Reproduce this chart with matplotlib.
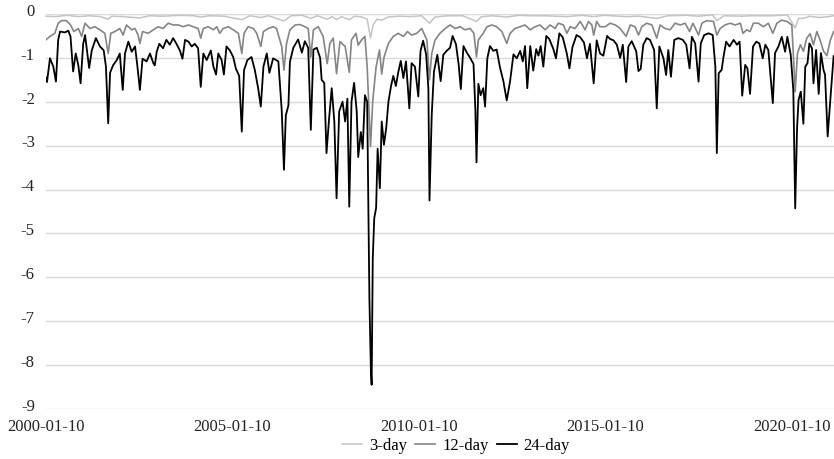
import matplotlib
matplotlib.use("Agg")
import matplotlib.pyplot as plt
import matplotlib.transforms as mtransforms

plt.rcParams["font.family"] = ["Liberation Serif", "DejaVu Serif"]

# dates as decimal years
t24 = [2000.03, 2000.06, 2000.14, 2000.23, 2000.30, 2000.36, 2000.41, 2000.54, 2000.63, 2000.69,
       2000.76, 2000.83, 2000.90, 2000.96, 2001.03, 2001.08, 2001.14, 2001.19, 2001.26, 2001.37,
       2001.48, 2001.58, 2001.64, 2001.70, 2001.75, 2001.83, 2001.93, 2002.01, 2002.09, 2002.15,
       2002.24, 2002.33, 2002.42, 2002.48, 2002.55, 2002.62, 2002.73, 2002.82, 2002.91, 2002.95,
       2003.00, 2003.07, 2003.17, 2003.26, 2003.35, 2003.44, 2003.53, 2003.62, 2003.69, 2003.76,
       2003.85, 2003.94, 2004.02, 2004.11, 2004.18, 2004.25, 2004.34, 2004.45, 2004.52, 2004.59,
       2004.65, 2004.74, 2004.80, 2004.87, 2004.96, 2005.05, 2005.12, 2005.21, 2005.28, 2005.34,
       2005.43, 2005.54, 2005.63, 2005.72, 2005.79, 2005.86, 2005.95, 2006.02, 2006.12, 2006.26,
       2006.35, 2006.41, 2006.46, 2006.53, 2006.57, 2006.66, 2006.79, 2006.89, 2006.97, 2007.06,
       2007.13, 2007.20, 2007.29, 2007.38, 2007.42, 2007.49, 2007.55, 2007.62, 2007.69, 2007.76,
       2007.82, 2007.89, 2007.98, 2008.05, 2008.11, 2008.16, 2008.22, 2008.29, 2008.36, 2008.40,
       2008.47, 2008.52, 2008.58, 2008.64, 2008.70, 2008.74, 2008.76, 2008.79, 2008.83, 2008.88,
       2008.92, 2008.98, 2009.03, 2009.09, 2009.15, 2009.21, 2009.28, 2009.34, 2009.41, 2009.47,
       2009.54, 2009.61, 2009.68, 2009.77, 2009.83, 2009.92, 2010.01, 2010.07, 2010.14, 2010.22,
       2010.28, 2010.31, 2010.37, 2010.43, 2010.52, 2010.61, 2010.68, 2010.77, 2010.86, 2010.93,
       2011.02, 2011.09, 2011.15, 2011.22, 2011.31, 2011.40, 2011.49, 2011.54, 2011.57, 2011.62,
       2011.68, 2011.75, 2011.80, 2011.86, 2011.93, 2012.02, 2012.11, 2012.20, 2012.29, 2012.38,
       2012.47, 2012.56, 2012.65, 2012.74, 2012.81, 2012.87, 2012.93, 2013.01, 2013.09, 2013.17,
       2013.23, 2013.29, 2013.36, 2013.44, 2013.52, 2013.63, 2013.70, 2013.79, 2013.88, 2013.99,
       2014.06, 2014.14, 2014.25, 2014.35, 2014.45, 2014.53, 2014.61, 2014.71, 2014.79, 2014.88,
       2014.97, 2015.07, 2015.15, 2015.24, 2015.33, 2015.42, 2015.49, 2015.58, 2015.64, 2015.73,
       2015.85, 2015.91, 2015.97, 2016.04, 2016.13, 2016.22, 2016.33, 2016.40, 2016.47, 2016.58,
       2016.65, 2016.71, 2016.78, 2016.87, 2016.98, 2017.10, 2017.19, 2017.28, 2017.34, 2017.43,
       2017.52, 2017.58, 2017.67, 2017.79, 2017.90, 2017.97, 2018.01, 2018.06, 2018.14, 2018.19,
       2018.26, 2018.35, 2018.46, 2018.55, 2018.62, 2018.69, 2018.77, 2018.83, 2018.90, 2018.98,
       2019.07, 2019.15, 2019.24, 2019.31, 2019.39, 2019.51, 2019.57, 2019.66, 2019.75, 2019.84,
       2019.90, 2019.99, 2020.06, 2020.11, 2020.16, 2020.20, 2020.26, 2020.33, 2020.38, 2020.44,
       2020.49, 2020.56, 2020.60, 2020.67, 2020.74, 2020.80, 2020.87, 2020.91, 2020.98, 2021.05,
       2021.14]
v24 = [-1.45, -1.55, -1.01, -1.20, -1.54, -0.59, -0.40, -0.42, -0.38, -0.51,
       -1.31, -0.90, -1.17, -1.58, -0.68, -0.48, -0.90, -1.23, -0.83, -0.55,
       -0.74, -0.83, -1.20, -2.49, -1.34, -1.17, -1.05, -0.90, -1.73, -0.90,
       -0.63, -0.86, -0.74, -1.17, -1.73, -1.02, -1.08, -0.90, -1.12, -1.17,
       -0.86, -0.68, -0.78, -0.59, -0.70, -0.55, -0.68, -0.83, -1.02, -0.59,
       -0.63, -0.74, -0.68, -0.78, -1.66, -0.90, -1.05, -0.83, -1.20, -1.38,
       -0.90, -1.05, -1.38, -0.74, -0.83, -0.98, -1.24, -1.41, -2.68, -1.28,
       -1.05, -0.98, -1.28, -1.70, -2.11, -1.20, -0.90, -1.34, -1.01, -1.08,
       -2.19, -3.55, -2.31, -2.08, -1.09, -0.77, -0.58, -0.88, -0.62, -0.77,
       -2.64, -0.81, -0.77, -1.00, -1.50, -1.57, -3.17, -2.38, -1.69, -2.45,
       -4.20, -2.22, -2.00, -2.45, -1.93, -4.39, -2.00, -1.57, -2.22, -3.26,
       -2.69, -3.07, -1.85, -2.00, -6.48, -8.15, -8.45, -5.56, -4.65, -4.42,
       -3.07, -3.97, -2.45, -2.98, -2.60, -2.00, -1.64, -1.41, -1.64, -1.34,
       -1.07, -1.46, -1.08, -2.15, -1.12, -1.20, -1.88, -0.84, -0.61, -0.92,
       -1.69, -4.25, -2.30, -1.31, -0.93, -1.53, -0.93, -0.84, -0.77, -0.50,
       -0.69, -1.14, -1.71, -0.73, -0.88, -1.00, -1.14, -2.20, -3.38, -1.59,
       -1.85, -1.69, -2.11, -1.01, -0.73, -0.84, -0.81, -1.22, -1.53, -1.97,
       -1.53, -0.92, -1.01, -0.84, -1.08, -0.73, -1.69, -0.73, -1.29, -0.80,
       -0.95, -0.73, -1.20, -0.50, -0.57, -0.80, -1.01, -0.44, -0.53, -0.90,
       -1.24, -0.76, -0.48, -0.53, -0.65, -1.01, -0.68, -1.58, -0.60, -0.90,
       -0.95, -0.50, -0.57, -0.60, -0.70, -1.00, -0.70, -1.55, -0.74, -0.62,
       -0.85, -1.30, -1.25, -0.70, -0.55, -0.59, -0.82, -2.15, -0.74, -1.01,
       -1.39, -0.82, -1.43, -0.59, -0.55, -0.59, -0.70, -1.24, -0.52, -0.67,
       -1.54, -0.67, -0.48, -0.44, -0.48, -1.20, -3.17, -1.35, -1.27, -0.97,
       -0.63, -0.74, -0.59, -0.70, -0.63, -1.86, -1.16, -1.24, -1.82, -0.74,
       -0.63, -0.67, -1.01, -0.70, -0.82, -2.03, -0.89, -0.74, -0.52, -0.86,
       -0.52, -0.93, -1.74, -4.43, -2.60, -1.96, -1.77, -2.50, -1.20, -1.12,
       -0.67, -0.78, -1.58, -0.82, -1.82, -0.89, -1.28, -1.38, -2.79, -1.97,
       -0.96]

t12 = [2000.03, 2000.14, 2000.27, 2000.36, 2000.45, 2000.58, 2000.69, 2000.78, 2000.90, 2000.99,
       2001.08, 2001.21, 2001.34, 2001.48, 2001.61, 2001.70, 2001.77, 2001.88, 2002.01, 2002.10,
       2002.19, 2002.33, 2002.42, 2002.50, 2002.55, 2002.62, 2002.77, 2002.91, 2003.04, 2003.17,
       2003.31, 2003.44, 2003.58, 2003.71, 2003.85, 2003.98, 2004.11, 2004.18, 2004.25, 2004.38,
       2004.52, 2004.61, 2004.69, 2004.78, 2004.92, 2005.05, 2005.19, 2005.28, 2005.34, 2005.45,
       2005.59, 2005.68, 2005.79, 2005.86, 2005.99, 2006.12, 2006.21, 2006.35, 2006.41, 2006.48,
       2006.57, 2006.71, 2006.84, 2006.97, 2007.06, 2007.13, 2007.20, 2007.33, 2007.46, 2007.57,
       2007.64, 2007.73, 2007.82, 2007.91, 2008.05, 2008.16, 2008.22, 2008.34, 2008.40, 2008.49,
       2008.58, 2008.64, 2008.73, 2008.79, 2008.88, 2008.97, 2009.03, 2009.09, 2009.21, 2009.34,
       2009.47, 2009.61, 2009.72, 2009.83, 2009.97, 2010.10, 2010.24, 2010.31, 2010.37, 2010.46,
       2010.59, 2010.73, 2010.86, 2011.00, 2011.13, 2011.26, 2011.40, 2011.50, 2011.57, 2011.62,
       2011.75, 2011.85, 2011.98, 2012.11, 2012.25, 2012.38, 2012.47, 2012.60, 2012.74, 2012.87,
       2013.01, 2013.14, 2013.27, 2013.41, 2013.54, 2013.68, 2013.76, 2013.90, 2013.99, 2014.08,
       2014.21, 2014.35, 2014.48, 2014.57, 2014.66, 2014.71, 2014.79, 2014.88, 2015.02, 2015.15,
       2015.29, 2015.42, 2015.58, 2015.69, 2015.82, 2015.91, 2016.00, 2016.13, 2016.27, 2016.40,
       2016.49, 2016.62, 2016.76, 2016.89, 2017.03, 2017.16, 2017.28, 2017.37, 2017.52, 2017.61,
       2017.74, 2017.92, 2018.01, 2018.10, 2018.23, 2018.37, 2018.50, 2018.64, 2018.71, 2018.81,
       2018.90, 2018.99, 2019.12, 2019.26, 2019.39, 2019.51, 2019.62, 2019.75, 2019.89, 2020.02,
       2020.11, 2020.17, 2020.25, 2020.33, 2020.42, 2020.51, 2020.60, 2020.69, 2020.78, 2020.87,
       2020.96, 2021.05, 2021.14]
v12 = [-0.59, -0.51, -0.44, -0.21, -0.15, -0.15, -0.25, -0.40, -0.33, -0.51,
       -0.21, -0.33, -0.29, -0.36, -0.44, -0.90, -0.44, -0.40, -0.33, -0.48,
       -0.25, -0.36, -0.33, -0.48, -0.67, -0.40, -0.44, -0.36, -0.29, -0.33,
       -0.21, -0.25, -0.25, -0.29, -0.25, -0.29, -0.33, -0.55, -0.33, -0.29,
       -0.36, -0.29, -0.44, -0.33, -0.29, -0.36, -0.44, -0.90, -0.44, -0.29,
       -0.33, -0.44, -0.74, -0.40, -0.33, -0.29, -0.33, -0.74, -1.28, -0.67,
       -0.36, -0.25, -0.24, -0.29, -0.33, -0.98, -0.36, -0.29, -0.51, -1.13,
       -0.67, -0.55, -1.36, -0.63, -0.74, -1.33, -0.59, -0.44, -0.71, -0.59,
       -0.51, -1.20, -3.02, -1.97, -1.20, -0.82, -1.37, -0.99, -0.67, -0.51,
       -0.44, -0.51, -0.40, -0.48, -0.44, -0.33, -0.59, -1.50, -0.90, -0.59,
       -0.44, -0.33, -0.25, -0.33, -0.29, -0.36, -0.33, -0.44, -0.98, -0.59,
       -0.44, -0.29, -0.25, -0.29, -0.40, -0.67, -0.44, -0.33, -0.29, -0.25,
       -0.36, -0.29, -0.25, -0.36, -0.25, -0.33, -0.21, -0.25, -0.44, -0.29,
       -0.33, -0.17, -0.36, -0.17, -0.25, -0.48, -0.17, -0.29, -0.29, -0.21,
       -0.25, -0.33, -0.51, -0.25, -0.29, -0.48, -0.29, -0.21, -0.25, -0.55,
       -0.25, -0.33, -0.36, -0.21, -0.25, -0.21, -0.40, -0.21, -0.48, -0.21,
       -0.15, -0.17, -0.48, -0.33, -0.25, -0.21, -0.25, -0.21, -0.44, -0.36,
       -0.40, -0.21, -0.21, -0.29, -0.21, -0.44, -0.21, -0.14, -0.17, -0.25,
       -1.77, -0.90, -0.70, -0.85, -0.55, -0.45, -0.70, -0.40, -0.60, -0.85,
       -0.95, -0.60, -0.40]

t3 = [2000.03, 2000.30, 2000.60, 2000.90, 2001.20, 2001.50, 2001.70, 2001.80, 2002.10, 2002.55,
      2002.80, 2003.20, 2003.60, 2004.00, 2004.18, 2004.40, 2004.80, 2005.28, 2005.50, 2005.79,
      2006.00, 2006.41, 2006.60, 2006.90, 2007.13, 2007.30, 2007.57, 2007.70, 2007.82, 2007.95,
      2008.16, 2008.30, 2008.50, 2008.64, 2008.73, 2008.80, 2008.90, 2009.03, 2009.20, 2009.50,
      2009.80, 2010.10, 2010.31, 2010.45, 2010.80, 2011.20, 2011.57, 2011.70, 2012.00, 2012.38,
      2012.70, 2013.00, 2013.40, 2013.99, 2014.40, 2014.71, 2015.00, 2015.58, 2015.91, 2016.40,
      2016.70, 2017.20, 2017.52, 2017.90, 2018.01, 2018.20, 2018.70, 2018.90, 2019.50, 2019.90,
      2020.11, 2020.20, 2020.33, 2020.50, 2020.75, 2021.00, 2021.14]
v3 = [-0.05, -0.06, -0.03, -0.06, -0.04, -0.06, -0.12, -0.05, -0.06, -0.09,
      -0.04, -0.05, -0.03, -0.04, -0.07, -0.04, -0.05, -0.13, -0.04, -0.08,
      -0.04, -0.16, -0.04, -0.03, -0.10, -0.04, -0.12, -0.06, -0.13, -0.06,
      -0.13, -0.05, -0.07, -0.12, -0.55, -0.25, -0.12, -0.14, -0.07, -0.05,
      -0.06, -0.04, -0.21, -0.07, -0.04, -0.04, -0.17, -0.06, -0.04, -0.07,
      -0.03, -0.04, -0.04, -0.06, -0.03, -0.06, -0.03, -0.06, -0.05, -0.10,
      -0.04, -0.03, -0.05, -0.02, -0.15, -0.04, -0.05, -0.04, -0.04, -0.02,
      -0.32, -0.10, -0.10, -0.05, -0.08, -0.06, -0.04]

tick_pos = [2000.03, 2005.03, 2010.03, 2015.03, 2020.03]
tick_labels = ["2000-01-10", "2005-01-10", "2010-01-10", "2015-01-10", "2020-01-10"]
y_ticks = list(range(-9, 1))

fig = plt.figure(figsize=(8.34, 4.59), dpi=100)
ax = fig.add_axes([0.055, 0.109, 0.945, 0.8605])

ax.plot(t3, v3, color="#c4c4c4", lw=1.1, label="3-day", clip_on=False, zorder=3)
ax.plot(t12, v12, color="#858585", lw=1.2, label="12-day", zorder=4)
ax.plot(t24, v24, color="#000000", lw=1.3, label="24-day", zorder=5)

ax.set_xlim(2000.03, 2021.15)
ax.set_ylim(-9, 0)
ax.set_yticks(y_ticks)
ax.set_yticklabels([str(v) for v in y_ticks])
ax.set_xticks(tick_pos)
ax.set_xticklabels(tick_labels)
ax.tick_params(length=0, labelsize=12, colors="#222222")
ax.tick_params(axis="y", pad=8)
ax.tick_params(axis="x", pad=7)
# y labels sit a touch above their gridlines, as in the source
lift = mtransforms.ScaledTranslation(0, 3 / 72, fig.dpi_scale_trans)
for lab in ax.get_yticklabels():
    lab.set_transform(lab.get_transform() + lift)
ax.grid(axis="y", color="#d9d9d9", lw=1.0)
ax.set_axisbelow(True)
for s in ax.spines.values():
    s.set_visible(False)

fig.legend(loc="center", bbox_to_anchor=(0.547, 0.028), ncol=3, frameon=False,
           fontsize=12, handlelength=1.2, handletextpad=0.4, columnspacing=0.5)

fig.savefig("out.png", dpi=100)
